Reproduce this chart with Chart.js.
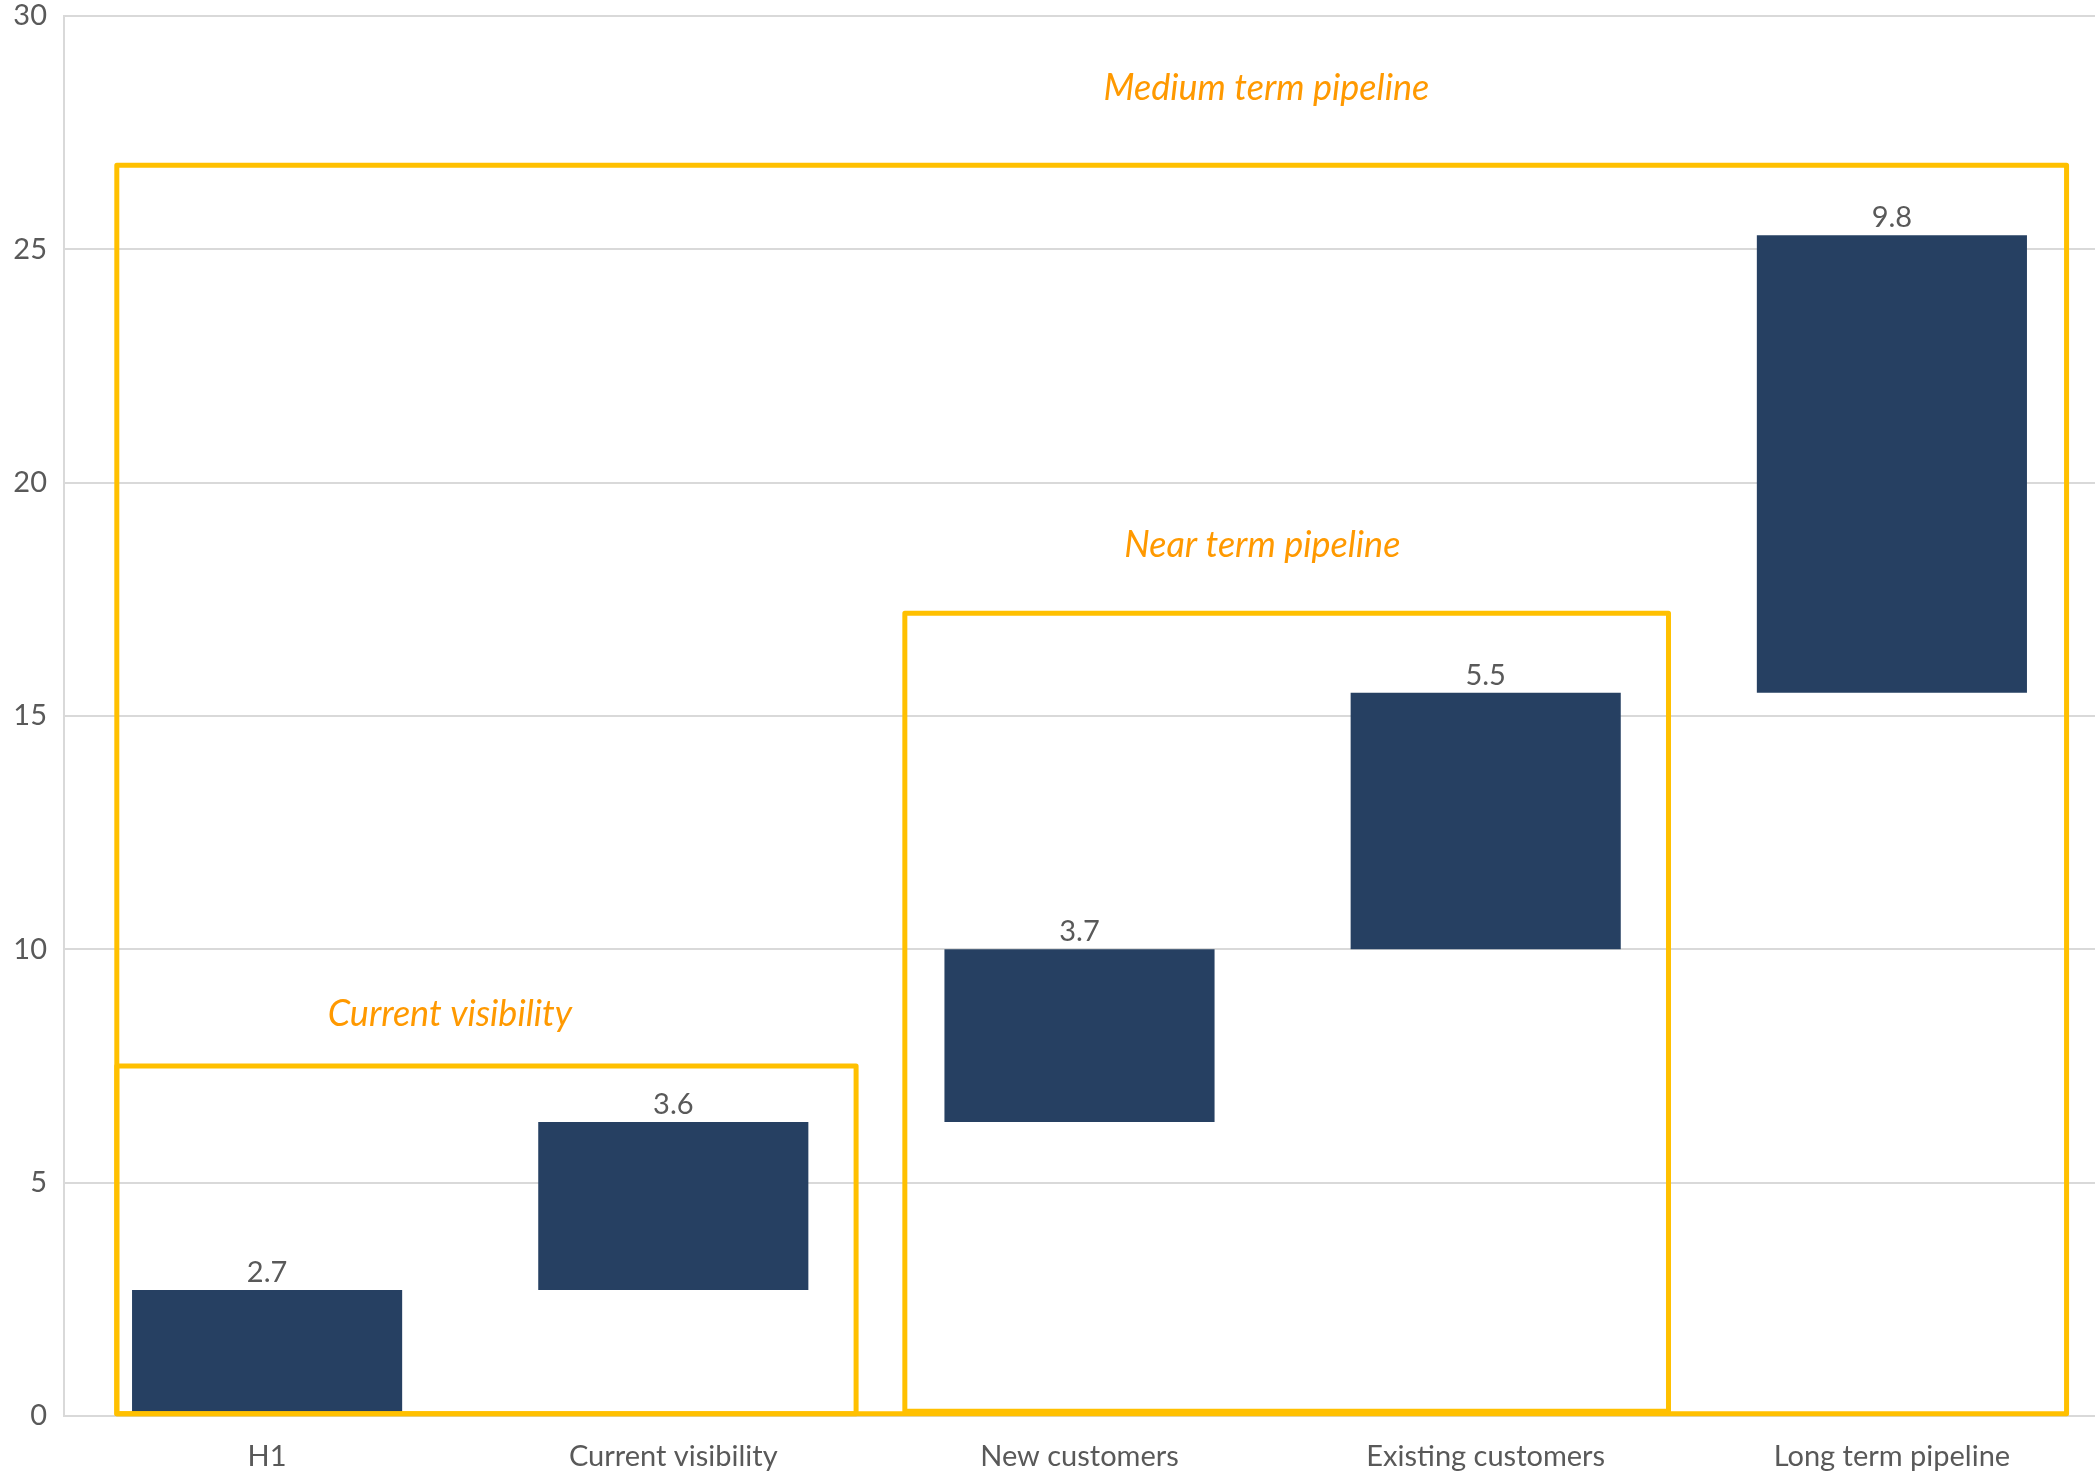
<!DOCTYPE html>
<html>
<head>
<meta charset="utf-8">
<script src="https://cdn.jsdelivr.net/npm/chart.js@4/dist/chart.umd.min.js"></script>
<style>
  html, body { margin: 0; padding: 0; background: #fff; }
  #wrap { width: 2095px; height: 1476px; }
</style>
</head>
<body>
<div id="wrap"><canvas id="chartPipeline"></canvas></div>
<script>
// Datos del gráfico (cascada)
const categories = ['H1', 'Current visibility', 'New customers', 'Existing customers', 'Long term pipeline'];
const barStart = [0, 2.7, 6.3, 10.0, 15.5];
const barEnd = [2.7, 6.3, 10.0, 15.5, 25.3];
const barLabels = ['2.7', '3.6', '3.7', '5.5', '9.8'];
const yTicks = [0, 5, 10, 15, 20, 25, 30];

// Recuadros amarillos (en unidades de categoría / eje y)
const boxNames = ['Current visibility', 'Near term pipeline', 'Medium term pipeline'];
const boxFrom = [-0.37, 1.57, -0.37];
const boxTo = [1.45, 3.45, 4.43];
const boxTop = [7.5, 17.2, 26.8];
const boxBottom = [0.05, 0.1, 0.05];
const boxTextX = [0.45, 2.45, 2.46];
const boxTextY = [8.6, 18.65, 28.45];

const FONT = 'Lato, "Open Sans", sans-serif';
const GRAY = '#595959';
const YELLOW = '#FFC000';
const ORANGE = '#FF9900';

const boxesPlugin = {
  id: 'boxes',
  afterDatasetsDraw(chart) {
    const { ctx, scales: { x, y } } = chart;
    const step = x.getPixelForValue(1) - x.getPixelForValue(0);
    const px = v => x.getPixelForValue(0) + v * step;
    ctx.save();
    // etiquetas de valor
    const meta = chart.getDatasetMeta(0);
    ctx.fillStyle = GRAY;
    ctx.font = '29px ' + FONT;
    ctx.textAlign = 'center';
    ctx.textBaseline = 'bottom';
    meta.data.forEach((bar, i) => {
      ctx.fillText(barLabels[i], bar.x, bar.y - 3);
    });
    // recuadros
    ctx.strokeStyle = YELLOW;
    ctx.lineWidth = 5;
    ctx.lineJoin = 'round';
    boxNames.forEach((name, i) => {
      const l = px(boxFrom[i]), r = px(boxTo[i]);
      const t = y.getPixelForValue(boxTop[i]), b = y.getPixelForValue(boxBottom[i]);
      ctx.strokeRect(l, t, r - l, b - t);
      ctx.fillStyle = ORANGE;
      ctx.font = 'italic 36px ' + FONT;
      ctx.textBaseline = 'middle';
      ctx.fillText(name, px(boxTextX[i]), y.getPixelForValue(boxTextY[i]));
    });
    ctx.restore();
  }
};

const ctxPipeline = document.getElementById('chartPipeline');
new Chart(ctxPipeline, {
  type: 'bar',
  data: {
    labels: categories,
    datasets: [{
      data: barStart.map((s, i) => [s, barEnd[i]]),
      backgroundColor: '#264062',
      categoryPercentage: 1,
      barPercentage: 0.665
    }]
  },
  options: {
    responsive: true,
    maintainAspectRatio: false,
    animation: false,
    layout: { padding: 0 },
    plugins: { legend: { display: false }, tooltip: { enabled: false } },
    scales: {
      x: {
        grid: { display: false, drawTicks: false },
        border: { color: '#d9d9d9', width: 2 },
        ticks: { color: GRAY, font: { family: FONT, size: 29 }, padding: 23, maxRotation: 0 },
        afterFit: s => { s.height = 60; s.paddingLeft = 0; s.paddingRight = 0; }
      },
      y: {
        min: 0,
        max: 30,
        afterBuildTicks: s => { s.ticks = yTicks.map(v => ({ value: v })); },
        grid: { color: '#d9d9d9', lineWidth: 2, drawTicks: false },
        border: { color: '#d9d9d9', width: 2 },
        ticks: { color: GRAY, font: { family: FONT, size: 29 }, padding: 17 },
        afterFit: s => { s.width = 64; s.paddingTop = 16; s.paddingBottom = 0; }
      }
    }
  },
  plugins: [boxesPlugin]
});
</script>
</body>
</html>
